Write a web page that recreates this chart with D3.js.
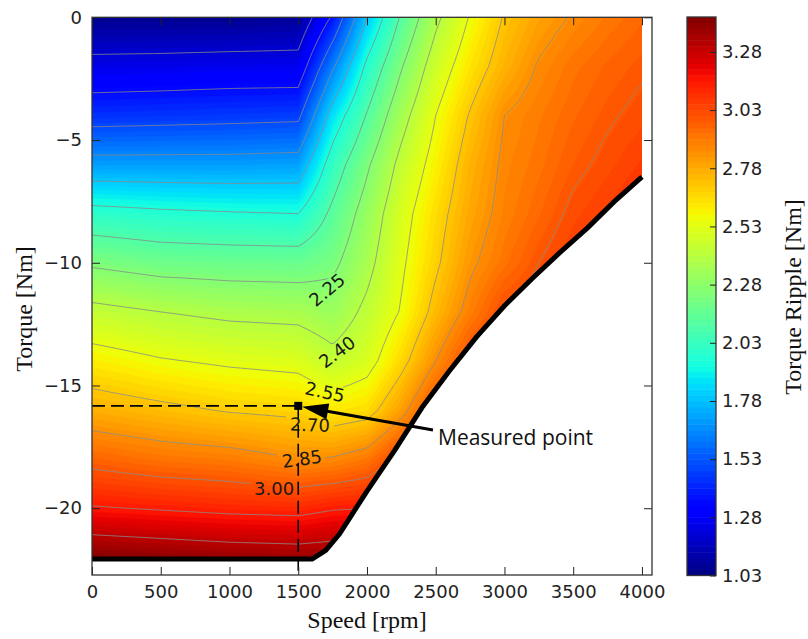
<!DOCTYPE html>
<html lang="en">
<head>
<meta charset="utf-8">
<title>Torque ripple map</title>
<script src="https://d3js.org/d3.v7.min.js"></script>
<style>
  body { margin: 0; background: #fff; }
  svg { display: block; }
  .tick text { font-family: "DejaVu Sans", sans-serif; font-size: 18px; fill: #222; }
  .tick line { stroke: #222; stroke-width: 1; }
  .axlabel { font-family: "Liberation Serif", "Times New Roman", serif; font-size: 24px; fill: #111; }
  .clabel { font-family: "DejaVu Sans", sans-serif; font-size: 18px; fill: #1a1a1a; }
</style>
</head>
<body>
<div id="chart"></div>
<script>
// torque ripple [Nm]: one row per torque, one column per speed
var speeds  = [0, 500, 1000, 1500, 1750, 2000, 2250, 2500, 2750, 3000, 3250, 3500, 3750, 4000];
var torques = [0, -2, -4, -6, -8, -10, -12, -14, -16, -18, -20, -22];
var ripple = [
  [1.06, 1.06, 1.06, 1.08, 1.37, 1.80, 2.12, 2.37, 2.56, 2.71, 2.80, 2.86, 2.91, 2.95],
  [1.245,1.25, 1.26, 1.26, 1.63, 1.98, 2.24, 2.47, 2.63, 2.76, 2.86, 2.92, 2.96, 2.99],
  [1.44, 1.45, 1.46, 1.47, 1.86, 2.11, 2.35, 2.55, 2.71, 2.85, 2.90, 2.95, 2.99, 3.02],
  [1.70, 1.70, 1.70, 1.71, 2.02, 2.23, 2.44, 2.60, 2.76, 2.87, 2.92, 2.98, 3.02, 3.06],
  [2.00, 1.975,1.96, 1.95, 2.13, 2.31, 2.50, 2.65, 2.79, 2.885,2.95, 3.02, 3.06, 3.10],
  [2.23, 2.19, 2.18, 2.175,2.22, 2.36, 2.53, 2.68, 2.83, 2.92, 3.00, 3.06, 3.10, 3.14],
  [2.44, 2.40, 2.37, 2.36, 2.32, 2.43, 2.56, 2.74, 2.89, 3.02, 3.05, 3.10, 3.14, 3.18],
  [2.61, 2.56, 2.53, 2.51, 2.44, 2.50, 2.66, 2.85, 3.02, 3.06, 3.10, 3.15, 3.20, 3.25],
  [2.77, 2.73, 2.69, 2.67, 2.62, 2.65, 2.81, 3.02, 3.08, 3.12, 3.16, 3.20, 3.25, 3.30],
  [2.96, 2.92, 2.90, 2.85, 2.86, 2.91, 3.05, 3.10, 3.14, 3.18, 3.22, 3.26, 3.30, 3.34],
  [3.16, 3.14, 3.12, 3.11, 3.14, 3.15, 3.18, 3.22, 3.26, 3.30, 3.32, 3.35, 3.38, 3.40],
  [3.42, 3.40, 3.38, 3.37, 3.38, 3.38, 3.40, 3.40, 3.40, 3.40, 3.40, 3.40, 3.40, 3.40]
];

// operating limit (thick black line)
var limitSpeed  = [0, 1600, 1700, 1800, 2000, 2200, 2400, 2600, 2800, 3000, 3200, 3400, 3600, 3800, 4000];
var limitTorque = [-22.07, -22.07, -21.72, -21.05, -19.3, -17.65, -15.9, -14.4, -13.0, -11.75, -10.65, -9.6, -8.6, -7.5, -6.5];

var lineLevels = [1.20, 1.35, 1.50, 1.65, 1.80, 1.95, 2.10, 2.25, 2.40, 2.55, 2.70, 2.85, 3.00, 3.15, 3.30];
var labelLevels = [2.25, 2.40, 2.55, 2.70, 2.85, 3.00];
var xTicks = [0, 500, 1000, 1500, 2000, 2500, 3000, 3500, 4000];
var yTicks = [0, -5, -10, -15, -20];
var cbTicks = [1.03, 1.28, 1.53, 1.78, 2.03, 2.28, 2.53, 2.78, 3.03, 3.28];
var cbRange = [1.03, 3.43];
var measured = [1500, -15.83];

// where the inline contour labels sit: [speed, torque, angle]
var labelSpots = [[1709, -11.1, -40], [1782, -13.63, -37], [1695, -15.26, 12],
                  [1585, -16.6, 2], [1527, -17.99, -8], [1324, -19.2, 0]];

var W = 808, H = 639;
var plot = {left: 92, right: 652, top: 17.3, bottom: 575};

var x = d3.scaleLinear().domain([0, 4073]).range([plot.left, plot.right]);
var y = d3.scaleLinear().domain([-22.72, 0]).range([plot.bottom, plot.top]);
var cScale = d3.scaleLinear().domain(cbRange).range([575.5, 17]);
var norm = d3.scaleLinear().domain(cbRange).range([0, 1]);

// matplotlib "jet"
var jetR = d3.scaleLinear().domain([0, 0.35, 0.66, 0.89, 1]).range([0, 0, 1, 1, 0.5]).clamp(true);
var jetG = d3.scaleLinear().domain([0, 0.125, 0.375, 0.64, 0.91, 1]).range([0, 0, 1, 1, 0, 0]).clamp(true);
var jetB = d3.scaleLinear().domain([0, 0.11, 0.34, 0.65, 1]).range([0.5, 1, 1, 0, 0]).clamp(true);
function jet(v) {
  var t = norm(v);
  return d3.rgb(255 * jetR(t), 255 * jetG(t), 255 * jetB(t)).formatHex();
}

var depth = torques.map(function(t) { return -t; });
function rippleAt(s, t) {
  var sc = Math.max(speeds[0], Math.min(speeds[speeds.length - 1], s));
  var dc = Math.max(depth[0], Math.min(depth[depth.length - 1], -t));
  var i = Math.min(d3.bisectRight(speeds, sc) - 1, speeds.length - 2);
  var j = Math.min(d3.bisectRight(depth, dc) - 1, depth.length - 2);
  var u = (sc - speeds[i]) / (speeds[i + 1] - speeds[i]);
  var v = (dc - depth[j]) / (depth[j + 1] - depth[j]);
  return (1 - u) * (1 - v) * ripple[j][i] + u * (1 - v) * ripple[j][i + 1] +
         (1 - u) * v * ripple[j + 1][i] + u * v * ripple[j + 1][i + 1];
}

// resample the table on a fine raster for d3.contours
var gs0 = -100, gsStep = 20, gnx = 211;
var gt0 = 0.6, gtStep = 0.1, gny = 237;
var grid = new Array(gnx * gny);
for (var j = 0; j < gny; j++)
  for (var i = 0; i < gnx; i++)
    grid[j * gnx + i] = rippleAt(gs0 + i * gsStep, gt0 - j * gtStep);

var proj = d3.geoTransform({point: function(cx, cy) {
  this.stream.point(x(gs0 + (cx - 0.5) * gsStep), y(gt0 - (cy - 0.5) * gtStep));
}});
var path = d3.geoPath(proj);

var bandStep = 0.025;
var fillLevels = d3.range(96).map(function(k) { return cbRange[0] + bandStep * k; });

var svg = d3.select('#chart').append('svg')
  .attr('width', W).attr('height', H);
var defs = svg.append('defs');

// data region = above the operating limit
var region = [[0, 0], [4000, 0]];
for (var k = limitSpeed.length - 1; k >= 0; k--) region.push([limitSpeed[k], limitTorque[k]]);
defs.append('clipPath').attr('id', 'region')
  .append('path')
  .attr('d', d3.line().x(function(d) { return x(d[0]); }).y(function(d) { return y(d[1]); })(region) + 'Z');

// gaps in the contour lines under the labels
var mask = defs.append('mask').attr('id', 'lblgap')
  .attr('maskUnits', 'userSpaceOnUse').attr('x', 0).attr('y', 0).attr('width', W).attr('height', H);
mask.append('rect').attr('width', W).attr('height', H).attr('fill', 'white');
labelSpots.forEach(function(p) {
  mask.append('rect')
    .attr('x', -24).attr('y', -8).attr('width', 48).attr('height', 16)
    .attr('fill', 'black')
    .attr('transform', 'translate(' + x(p[0]) + ',' + y(p[1]) + ') rotate(' + p[2] + ')');
});

var field = svg.append('g').attr('clip-path', 'url(#region)');

field.selectAll('path.band')
  .data(d3.contours().size([gnx, gny]).thresholds(fillLevels)(grid))
  .enter().append('path')
  .attr('class', 'band')
  .attr('d', path)
  .attr('fill', function(d) { return jet(d.value + bandStep / 2); })
  .attr('stroke', function(d) { return jet(d.value + bandStep / 2); })
  .attr('stroke-width', 0.4);

field.append('g').attr('mask', 'url(#lblgap)')
  .selectAll('path.iso')
  .data(d3.contours().size([gnx, gny]).thresholds(lineLevels)(grid))
  .enter().append('path')
  .attr('class', 'iso')
  .attr('d', path)
  .attr('fill', 'none')
  .attr('stroke', '#8a8a8a')
  .attr('stroke-opacity', 0.8)
  .attr('stroke-width', 1);

svg.append('g').selectAll('text')
  .data(labelSpots)
  .enter().append('text')
  .attr('class', 'clabel')
  .attr('text-anchor', 'middle')
  .attr('dy', '0.36em')
  .attr('transform', function(p) { return 'translate(' + x(p[0]) + ',' + y(p[1]) + ') rotate(' + p[2] + ')'; })
  .text(function(p, i) { return d3.format('.2f')(labelLevels[i]); });

// operating limit
svg.append('path')
  .datum(d3.zip(limitSpeed, limitTorque))
  .attr('d', d3.line().x(function(d) { return x(d[0]); }).y(function(d) { return y(d[1]); }))
  .attr('fill', 'none').attr('stroke', '#000').attr('stroke-width', 5)
  .attr('stroke-linejoin', 'round');

// measured point
var mx = x(measured[0]), my = y(measured[1]);
svg.append('line')
  .attr('x1', plot.left).attr('y1', my).attr('x2', mx).attr('y2', my)
  .attr('stroke', '#000').attr('stroke-width', 1.6).attr('stroke-dasharray', '13,6');
svg.append('line')
  .attr('x1', mx).attr('y1', my).attr('x2', mx).attr('y2', plot.bottom)
  .attr('stroke', '#000').attr('stroke-width', 1.6).attr('stroke-dasharray', '13,6');
svg.append('rect')
  .attr('x', mx - 4).attr('y', my - 4).attr('width', 8).attr('height', 8).attr('fill', '#000');

var tail = [433, 430], tip = [mx + 4, my + 1];
var dx = tip[0] - tail[0], dy = tip[1] - tail[1], len = Math.sqrt(dx * dx + dy * dy);
var ux = dx / len, uy = dy / len, headL = 26, headW = 8;
var base = [tip[0] - ux * headL, tip[1] - uy * headL];
svg.append('line')
  .attr('x1', tail[0]).attr('y1', tail[1]).attr('x2', base[0] + ux * 2).attr('y2', base[1] + uy * 2)
  .attr('stroke', '#000').attr('stroke-width', 3);
svg.append('path')
  .attr('d', 'M' + tip + 'L' + [base[0] - uy * headW, base[1] + ux * headW] +
             'L' + [base[0] + uy * headW, base[1] - ux * headW] + 'Z')
  .attr('fill', '#000');
svg.append('text')
  .attr('x', 438).attr('y', 445)
  .style('font-family', '"Open Sans", sans-serif').style('font-size', '21px').style('fill', '#111')
  .text('Measured point');

// axes, ticks inside on all four sides
svg.append('g').attr('transform', 'translate(0,' + plot.bottom + ')')
  .call(d3.axisBottom(x).tickValues(xTicks).tickSize(-8).tickSizeOuter(0).tickPadding(10).tickFormat(d3.format('d')))
  .call(function(g) { g.select('.domain').remove(); });
svg.append('g').attr('transform', 'translate(0,' + plot.top + ')')
  .call(d3.axisTop(x).tickValues(xTicks).tickSize(-8).tickSizeOuter(0).tickFormat(''))
  .call(function(g) { g.select('.domain').remove(); });
svg.append('g').attr('transform', 'translate(' + plot.left + ',0)')
  .call(d3.axisLeft(y).tickValues(yTicks).tickSize(-8).tickSizeOuter(0).tickPadding(10).tickFormat(d3.format('d')))
  .call(function(g) { g.select('.domain').remove(); });
svg.append('g').attr('transform', 'translate(' + plot.right + ',0)')
  .call(d3.axisRight(y).tickValues(yTicks).tickSize(-8).tickSizeOuter(0).tickFormat(''))
  .call(function(g) { g.select('.domain').remove(); });

svg.append('rect')
  .attr('x', plot.left).attr('y', plot.top)
  .attr('width', plot.right - plot.left).attr('height', plot.bottom - plot.top)
  .attr('fill', 'none').attr('stroke', '#333').attr('stroke-width', 1.3);

svg.append('text').attr('class', 'axlabel')
  .attr('x', 367).attr('y', 628).attr('text-anchor', 'middle')
  .text('Speed [rpm]');
svg.append('text').attr('class', 'axlabel')
  .attr('transform', 'translate(32,309) rotate(-90)').attr('text-anchor', 'middle')
  .text('Torque [Nm]');

// colorbar
var cb = {left: 687, right: 716};
svg.append('g').selectAll('rect')
  .data(fillLevels)
  .enter().append('rect')
  .attr('x', cb.left).attr('width', cb.right - cb.left)
  .attr('y', function(d) { return cScale(d + bandStep); })
  .attr('height', function(d) { return cScale(d) - cScale(d + bandStep) + 0.5; })
  .attr('fill', function(d) { return jet(d + bandStep / 2); });
svg.append('rect')
  .attr('x', cb.left).attr('y', cScale(cbRange[1]))
  .attr('width', cb.right - cb.left).attr('height', cScale(cbRange[0]) - cScale(cbRange[1]))
  .attr('fill', 'none').attr('stroke', '#333').attr('stroke-width', 1.3);
svg.append('g').attr('transform', 'translate(' + cb.right + ',0)')
  .call(d3.axisRight(cScale).tickValues(cbTicks).tickSize(-6).tickSizeOuter(0).tickPadding(6).tickFormat(d3.format('.2f')))
  .call(function(g) { g.select('.domain').remove(); });
svg.append('text').attr('class', 'axlabel')
  .attr('transform', 'translate(801,297) rotate(-90)').attr('text-anchor', 'middle')
  .text('Torque Ripple [Nm]');
</script>
</body>
</html>
